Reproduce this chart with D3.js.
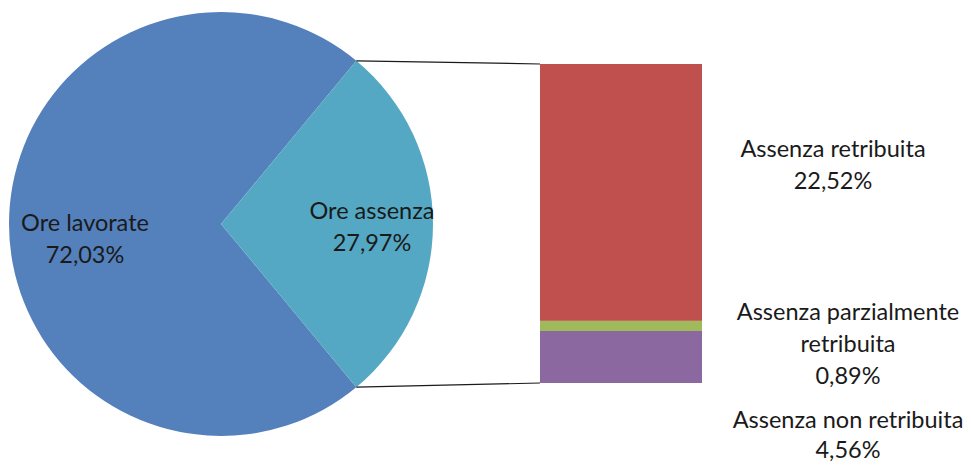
<!DOCTYPE html>
<html><head><meta charset="utf-8">
<script src="https://cdn.jsdelivr.net/npm/d3@7"></script>
<style>
html,body{margin:0;padding:0;background:#fff;}
svg{display:block;}
text{font-family:"Lato","Noto Sans",sans-serif;fill:#1a1a1a;}
</style></head>
<body>
<svg id="c" width="971" height="465"></svg>
<script>
// Data
const pieLabels = ["Ore lavorate", "Ore assenza"];
const pieValues = [72.03, 27.97];
const pieColors = ["#5480BC", "#55A8C3"];

const barLabels = ["Assenza non retribuita", "Assenza parzialmente retribuita", "Assenza retribuita"];
const barValues = [4.56, 0.89, 22.52];
const barColors = ["#8B68A0", "#9EBA5A", "#C0504E"];

const fmt = v => d3.format(".2f")(v).replace(".", ",") + "%";

const svg = d3.select("#c");
const cx = 221, cy = 224, R = 212;

// Pie: absence slice centred to the right
const total = d3.sum(pieValues);
const absAngle = pieValues[1] / total * 2 * Math.PI;
const pie = d3.pie().sort(null).startAngle(Math.PI / 2 + absAngle / 2).endAngle(Math.PI / 2 + absAngle / 2 + 2 * Math.PI);
const arcs = pie(pieValues);
const arc = d3.arc().innerRadius(0).outerRadius(R);
const g = svg.append("g").attr("transform", `translate(${cx},${cy})`);
g.selectAll("path").data(arcs).join("path")
  .attr("d", arc).attr("fill", (d, i) => pieColors[i]);

// Bar
const barX = 540, barW = 162;
const y = d3.scaleLinear().domain([0, d3.sum(barValues)]).range([383, 64]);
const stack = [];
let acc = 0;
barValues.forEach((v, i) => { stack.push({ v, i, y0: acc, y1: acc + v }); acc += v; });
svg.append("g").selectAll("rect").data(stack).join("rect")
  .attr("x", barX).attr("width", barW)
  .attr("y", d => y(d.y1)).attr("height", d => y(d.y0) - y(d.y1))
  .attr("fill", d => barColors[d.i]);

// Connector lines
const a0 = arcs[1].startAngle, a1 = arcs[1].endAngle;
const pt = a => [cx + R * Math.sin(a), cy - R * Math.cos(a)];
const pTop = pt(a0), pBot = pt(a1);
svg.append("line").attr("x1", pTop[0]).attr("y1", pTop[1]).attr("x2", barX).attr("y2", y(d3.sum(barValues)))
  .attr("stroke", "#1a1a1a").attr("stroke-width", 1.2);
svg.append("line").attr("x1", pBot[0]).attr("y1", pBot[1]).attr("x2", barX).attr("y2", y(0))
  .attr("stroke", "#1a1a1a").attr("stroke-width", 1.2);

// Labels
const fs = 23.5, lh = 32;
function label(lines, x, yb, step) {
  const t = svg.append("text").attr("text-anchor", "middle").attr("font-size", fs);
  lines.forEach((s, k) => t.append("tspan").attr("x", x).attr("y", yb + k * (step || lh)).text(s));
}
label([pieLabels[0], fmt(pieValues[0])], 85, 231);
label([pieLabels[1], fmt(pieValues[1])], 372, 219);
label(["Assenza retribuita", fmt(barValues[2])], 833, 157);
label(["Assenza parzialmente", "retribuita", fmt(barValues[1])], 848, 320);
label([barLabels[0], fmt(barValues[0])], 848, 428, 30);
</script>
</body></html>
